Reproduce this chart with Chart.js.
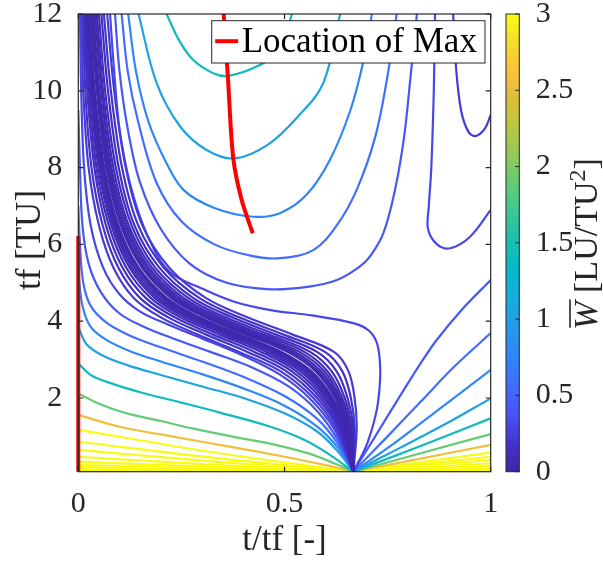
<!DOCTYPE html>
<html>
<head>
<meta charset="utf-8">
<script src="https://cdn.jsdelivr.net/npm/chart.js@4/dist/chart.umd.min.js"></script>
<style>
  html, body { margin: 0; padding: 0; background: #fff; }
  canvas { display: block; }
</style>
</head>
<body>
<canvas id="c" width="603" height="565"></canvas>
<script>
// axes
const tfMin = 0.08, tfMax = 12;
const tickT = [0, 0.5, 1];
const tickTf = [2, 4, 6, 8, 10, 12];
const tickW = [0, 0.5, 1, 1.5, 2, 2.5, 3];
const wMax = 3;

// location of max (red)
const maxT = [0.3525, 0.3625, 0.3757, 0.396, 0.423];
const maxTf = [12, 10.39, 8.25, 7.16, 6.29];
const maxEdgeTf = [0.08, 6.22];

// dense valley band: shared tf grid, t/tf of each line
const bandTf = [12, 10, 8, 6.5, 5.4, 4.6, 4.1, 3.65, 3.2, 2.7, 2.0, 1.2, 0.08];
const bandLevels = [0.021, 0.028, 0.038, 0.051, 0.069, 0.093, 0.126, 0.17, 0.23];
const bandUpperT = [
  [0.031, 0.045, 0.068, 0.103, 0.154, 0.225, 0.307, 0.407, 0.507, 0.575, 0.623, 0.652, 0.667],
  [0.033, 0.048, 0.072, 0.107, 0.159, 0.232, 0.314, 0.416, 0.516, 0.581, 0.627, 0.653, 0.667],
  [0.037, 0.051, 0.076, 0.112, 0.165, 0.239, 0.323, 0.425, 0.525, 0.588, 0.631, 0.655, 0.667],
  [0.041, 0.056, 0.080, 0.117, 0.171, 0.247, 0.333, 0.436, 0.536, 0.596, 0.635, 0.658, 0.667],
  [0.045, 0.060, 0.085, 0.122, 0.178, 0.256, 0.344, 0.448, 0.548, 0.604, 0.640, 0.660, 0.667],
  [0.050, 0.065, 0.091, 0.129, 0.186, 0.267, 0.357, 0.462, 0.562, 0.614, 0.646, 0.663, 0.667],
  [0.056, 0.072, 0.098, 0.136, 0.196, 0.279, 0.373, 0.479, 0.579, 0.626, 0.653, 0.667, 0.667],
  [0.062, 0.079, 0.106, 0.145, 0.207, 0.294, 0.390, 0.498, 0.598, 0.640, 0.661, 0.670, 0.667],
  [0.070, 0.087, 0.115, 0.155, 0.220, 0.310, 0.410, 0.520, 0.620, 0.655, 0.670, 0.675, 0.667]
];
const bandLowerT = [
  [0.027, 0.040, 0.063, 0.097, 0.146, 0.215, 0.294, 0.393, 0.493, 0.565, 0.617, 0.649, 0.667],
  [0.025, 0.038, 0.060, 0.093, 0.142, 0.209, 0.287, 0.386, 0.486, 0.560, 0.613, 0.647, 0.667],
  [0.024, 0.036, 0.057, 0.089, 0.136, 0.202, 0.279, 0.377, 0.477, 0.553, 0.609, 0.645, 0.667],
  [0.022, 0.033, 0.053, 0.085, 0.130, 0.194, 0.270, 0.367, 0.467, 0.546, 0.605, 0.642, 0.667],
  [0.020, 0.030, 0.049, 0.080, 0.124, 0.186, 0.260, 0.356, 0.456, 0.538, 0.600, 0.640, 0.667],
  [0.018, 0.026, 0.044, 0.074, 0.116, 0.176, 0.248, 0.343, 0.443, 0.528, 0.594, 0.637, 0.667],
  [0.015, 0.022, 0.039, 0.067, 0.107, 0.164, 0.234, 0.327, 0.427, 0.517, 0.587, 0.633, 0.667],
  [0.012, 0.017, 0.032, 0.059, 0.097, 0.150, 0.218, 0.310, 0.410, 0.504, 0.579, 0.630, 0.667],
  [0.008, 0.012, 0.025, 0.050, 0.085, 0.135, 0.200, 0.290, 0.390, 0.490, 0.570, 0.625, 0.667]
];

// lines leaving the t/tf = 0 edge, ending at the focus (2/3, 0)
const low031 = [[0.004, 12], [0.007, 10], [0.014, 8], [0.03, 6.5], [0.06, 5.4], [0.1, 4.7], [0.15, 4.25], [0.22, 3.9], [0.3, 3.55], [0.4, 3.1], [0.49, 2.6], [0.56, 2.0], [0.62, 1.2], [0.667, 0.08]];
const low042 = [[0, 9.5], [0.004, 8], [0.01, 6.5], [0.025, 5.5], [0.055, 4.75], [0.1, 4.2], [0.16, 3.85], [0.23, 3.55], [0.32, 3.2], [0.42, 2.8], [0.51, 2.3], [0.58, 1.65], [0.63, 0.9], [0.667, 0.08]];
const low057 = [[0, 7.0], [0.004, 6], [0.012, 5.0], [0.03, 4.4], [0.07, 3.95], [0.13, 3.6], [0.2, 3.32], [0.3, 2.95], [0.4, 2.55], [0.5, 2.05], [0.58, 1.45], [0.63, 0.8], [0.667, 0.08]];
const low077 = [[0, 5.25], [0.01, 4.4], [0.03, 3.85], [0.07, 3.5], [0.13, 3.2], [0.2, 2.95], [0.3, 2.62], [0.4, 2.25], [0.5, 1.8], [0.58, 1.25], [0.63, 0.7], [0.667, 0.08]];
const low104 = [[0, 3.85], [0.02, 3.4], [0.06, 3.1], [0.12, 2.85], [0.2, 2.6], [0.3, 2.3], [0.4, 2.0], [0.5, 1.6], [0.58, 1.12], [0.63, 0.6], [0.667, 0.08]];
const low141 = [[0, 2.9], [0.03, 2.6], [0.08, 2.38], [0.15, 2.15], [0.25, 1.88], [0.35, 1.6], [0.466, 1.25], [0.55, 0.9], [0.61, 0.52], [0.667, 0.08]];
const low190 = [[0, 2.12], [0.05, 1.85], [0.117, 1.6], [0.2, 1.4], [0.28, 1.2], [0.38, 0.98], [0.47, 0.8], [0.56, 0.55], [0.62, 0.3], [0.667, 0.08]];
const low256 = [[0, 1.56], [0.1, 1.25], [0.2, 1.05], [0.3, 0.86], [0.4, 0.67], [0.5, 0.47], [0.6, 0.25], [0.667, 0.08]];

// upper lines (U shapes under the top edge)
const up031 = [[0.077, 12], [0.087, 10.5], [0.1, 9], [0.125, 7.6], [0.165, 6.3], [0.22, 5.3], [0.3, 4.85], [0.38, 4.5], [0.466, 4.29], [0.567, 4.15], [0.667, 3.95], [0.705, 3.75], [0.725, 3.4], [0.732, 2.8], [0.73, 2.2], [0.722, 1.6], [0.70, 0.8], [0.667, 0.08]];
const up042 = [[0.089, 12], [0.1, 10.5], [0.12, 9], [0.15, 7.6], [0.2, 6.4], [0.27, 5.5], [0.36, 5.0], [0.466, 4.83], [0.56, 4.9], [0.627, 5.07], [0.68, 5.4], [0.707, 5.68], [0.74, 6.3], [0.768, 7.42], [0.79, 8.8], [0.805, 10.3], [0.821, 12]];
const up057 = [[0.105, 12], [0.12, 10.5], [0.145, 9.2], [0.19, 7.6], [0.25, 6.6], [0.33, 6.0], [0.42, 5.7], [0.49, 5.64], [0.57, 5.85], [0.627, 6.5], [0.675, 7.42], [0.72, 8.8], [0.75, 10.4], [0.772, 12]];
const up077 = [[0.121, 12], [0.14, 10.5], [0.17, 9.2], [0.21, 8.2], [0.255, 7.42], [0.33, 6.95], [0.425, 6.72], [0.49, 6.82], [0.554, 7.3], [0.61, 8.2], [0.66, 9.5], [0.692, 10.8], [0.712, 12]];
const up104 = [[0.146, 12], [0.19, 10.2], [0.247, 9.07], [0.311, 8.46], [0.38, 8.24], [0.46, 8.6], [0.53, 9.3], [0.594, 10.2], [0.635, 12]];
const up141 = [[0.214, 12], [0.245, 11.3], [0.279, 10.8], [0.327, 10.46], [0.365, 10.39], [0.44, 10.67], [0.489, 11.06], [0.518, 12]];
const rightU031 = [[0.865, 12], [0.862, 10], [0.856, 8], [0.85, 7.0], [0.848, 6.4], [0.87, 6.0], [0.902, 5.9], [0.95, 6.2], [1, 6.9]];
const rightU023 = [[0.909, 12], [0.916, 10.6], [0.928, 9.5], [0.945, 8.95], [0.962, 8.82], [0.985, 9.0], [1, 9.37]];

// lines from the focus to the t/tf = 1 edge
const right042 = [[0.667, 0.08], [0.72, 1.0], [0.78, 2.05], [0.83, 2.9], [0.869, 3.51], [0.93, 4.3], [1, 5.07]];
const right057 = [[0.667, 0.08], [0.75, 1.0], [0.83, 1.9], [0.91, 2.8], [1, 3.69]];
const right077 = [[0.667, 0.08], [0.77, 0.85], [0.88, 1.75], [1, 2.73]];
const right104 = [[0.667, 0.08], [0.78, 0.7], [0.89, 1.32], [1, 1.99]];
const right141 = [[0.667, 0.08], [0.83, 0.75], [1, 1.47]];
const right190 = [[0.667, 0.08], [0.83, 0.56], [1, 1.06]];
const right256 = [[0.667, 0.08], [0.83, 0.42], [1, 0.78]];

// high levels (all yellow) near tf = 0
const yellowLevels = [3.46, 4.67, 6.3, 8.5, 11.5, 15.5, 21, 28, 38];
const yellowLeftTf = [1.17, 0.86, 0.65, 0.47, 0.34, 0.26, 0.2, 0.15, 0.12];
const yellowMidTf = [0.58, 0.44, 0.34, 0.26, 0.2, 0.16, 0.13, 0.11, 0.095];
const yellowRightTf = [0.58, 0.47, 0.39, 0.30, 0.23, 0.17, 0.13, 0.11, 0.095];
const yellowMidT = 0.33;
const focus = [0.667, 0.08];

// parula colormap
const parulaStops = [
  [0.0, [62, 38, 168]], [0.0625, [68, 52, 206]], [0.125, [72, 82, 244]], [0.1875, [66, 109, 254]],
  [0.25, [48, 133, 248]], [0.3125, [37, 153, 234]], [0.375, [23, 172, 220]], [0.4375, [6, 183, 202]],
  [0.5, [23, 191, 177]], [0.5625, [56, 199, 150]], [0.625, [96, 203, 121]], [0.6875, [143, 202, 90]],
  [0.75, [184, 198, 66]], [0.8125, [221, 191, 57]], [0.875, [252, 192, 60]], [0.9375, [245, 220, 44]],
  [1.0, [249, 251, 21]]
];
function parula(t) {
  t = Math.max(0, Math.min(1, t));
  for (let i = 1; i < parulaStops.length; i++) {
    const [t1, c1] = parulaStops[i];
    const [t0, c0] = parulaStops[i - 1];
    if (t <= t1) {
      const f = (t - t0) / (t1 - t0);
      const c = c0.map((v, k) => Math.round(v + f * (c1[k] - v)));
      return `rgb(${c[0]},${c[1]},${c[2]})`;
    }
  }
  return 'rgb(249,251,21)';
}

const lines = [];
function addLine(level, arr) { lines.push({ level, arr }); }

bandLevels.forEach((lv, i) => {
  addLine(lv, bandUpperT[i].map((t, j) => [t, bandTf[j]]));
  addLine(lv, bandLowerT[i].map((t, j) => [t, bandTf[j]]));
});
addLine(0.31, low031); addLine(0.42, low042); addLine(0.57, low057); addLine(0.77, low077);
addLine(1.04, low104); addLine(1.41, low141); addLine(1.90, low190); addLine(2.56, low256);
addLine(0.31, up031); addLine(0.42, up042); addLine(0.57, up057); addLine(0.77, up077);
addLine(1.04, up104); addLine(1.41, up141);
addLine(0.31, rightU031); addLine(0.23, rightU023);
addLine(0.42, right042); addLine(0.57, right057); addLine(0.77, right077); addLine(1.04, right104);
addLine(1.41, right141); addLine(1.90, right190); addLine(2.56, right256);
yellowLevels.forEach((lv, i) => {
  addLine(lv, [[0, yellowLeftTf[i]], [yellowMidT, yellowMidTf[i]], focus]);
  addLine(lv, [focus, [1, yellowRightTf[i]]]);
});

const datasets = [
  {
    data: maxT.map((t, i) => ({ x: t, y: maxTf[i] })),
    borderColor: '#ff0000', borderWidth: 4, showLine: true, pointRadius: 0, tension: 0.3
  },
  {
    data: maxEdgeTf.map(y => ({ x: 0, y })),
    borderColor: '#ff0000', borderWidth: 4, showLine: true, pointRadius: 0, clip: false
  }
].concat(lines.map(l => ({
  data: l.arr.map(([x, y]) => ({ x, y })),
  borderColor: parula(Math.min(l.level, wMax) / wMax),
  borderWidth: 2.2, showLine: true, pointRadius: 0, tension: 0.35
})));

const serif = "'Liberation Serif', 'Times New Roman', serif";
const ink = '#262626';

function drawCbTitle(ctx, cx, cy) {
  const big = `34px ${serif}`, ital = `italic 34px ${serif}`, small = `24px ${serif}`;
  const parts = [[ital, 'W', 0], [big, ' [LU/TU', 0], [small, '2', -12], [big, ']', 0]];
  ctx.save();
  ctx.translate(cx, cy);
  ctx.rotate(-Math.PI / 2);
  let total = 0;
  parts.forEach(p => { ctx.font = p[0]; total += ctx.measureText(p[1]).width; });
  let x = -total / 2;
  ctx.fillStyle = ink;
  ctx.textBaseline = 'alphabetic';
  parts.forEach(([f, s, dy], i) => {
    ctx.font = f;
    const w = ctx.measureText(s).width;
    ctx.fillText(s, x, 11 + dy);
    if (i === 0) {
      ctx.strokeStyle = ink; ctx.lineWidth = 1.6;
      ctx.beginPath(); ctx.moveTo(x + 2, -16); ctx.lineTo(x + w + 2, -16); ctx.stroke();
    }
    x += w;
  });
  ctx.restore();
}

const decor = {
  id: 'decor',
  afterDraw(chart) {
    const { ctx, chartArea: a, scales } = chart;
    const sx = scales.x, sy = scales.y, sc = scales.cb;
    ctx.save();

    // colorbar
    const cbL = a.right + 15.3, cbW = 13.3;
    const g = ctx.createLinearGradient(0, a.bottom, 0, a.top);
    parulaStops.forEach(([t, c]) => g.addColorStop(t, `rgb(${c[0]},${c[1]},${c[2]})`));
    ctx.fillStyle = g;
    ctx.fillRect(cbL, a.top, cbW, a.bottom - a.top);
    ctx.strokeStyle = ink; ctx.lineWidth = 1;
    ctx.strokeRect(cbL, a.top, cbW, a.bottom - a.top);
    ctx.beginPath();
    tickW.forEach(v => {
      const y = sc.getPixelForValue(v);
      ctx.moveTo(cbL + cbW - 4, y); ctx.lineTo(cbL + cbW, y);
    });
    ctx.stroke();

    // axes box and inward ticks
    ctx.lineWidth = 1.2;
    ctx.strokeRect(a.left, a.top, a.right - a.left, a.bottom - a.top);
    ctx.beginPath();
    tickT.forEach(v => {
      const x = sx.getPixelForValue(v);
      ctx.moveTo(x, a.bottom); ctx.lineTo(x, a.bottom - 5);
      ctx.moveTo(x, a.top); ctx.lineTo(x, a.top + 5);
    });
    tickTf.forEach(v => {
      const y = sy.getPixelForValue(v);
      ctx.moveTo(a.left, y); ctx.lineTo(a.left + 5, y);
      ctx.moveTo(a.right, y); ctx.lineTo(a.right - 5, y);
    });
    ctx.stroke();

    // legend
    const lx = 211.7, ly = 20.7, lw = 273.3, lh = 42.3;
    ctx.fillStyle = '#fff';
    ctx.fillRect(lx, ly, lw, lh);
    ctx.strokeStyle = ink; ctx.lineWidth = 1;
    ctx.strokeRect(lx, ly, lw, lh);
    ctx.strokeStyle = '#ff0000'; ctx.lineWidth = 4;
    ctx.beginPath(); ctx.moveTo(lx + 3.5, ly + 20.5); ctx.lineTo(lx + 26.5, ly + 20.5); ctx.stroke();
    ctx.fillStyle = '#000';
    ctx.font = `35px ${serif}`;
    ctx.textBaseline = 'middle';
    ctx.textAlign = 'left';
    ctx.fillText('Location of Max', lx + 30, ly + 22);

    // axis titles
    ctx.fillStyle = ink;
    ctx.textAlign = 'center';
    ctx.font = `35px ${serif}`;
    ctx.fillText('t/tf [-]', (a.left + a.right) / 2, 541);
    ctx.save();
    ctx.translate(31, 240);
    ctx.rotate(-Math.PI / 2);
    ctx.fillText('tf [TU]', 0, 0);
    ctx.restore();
    ctx.textAlign = 'left';
    drawCbTitle(ctx, 586, 244);

    ctx.restore();
  }
};

const tickFont = { family: serif, size: 30 };
const fmt = v => String(+Number(v).toFixed(2));

new Chart(document.getElementById('c'), {
  type: 'scatter',
  data: { datasets },
  options: {
    responsive: false,
    animation: false,
    devicePixelRatio: 1,
    layout: { padding: { top: 14, left: 0, right: 0, bottom: 0 } },
    plugins: { legend: { display: false }, tooltip: { enabled: false } },
    elements: { point: { radius: 0 } },
    scales: {
      x: {
        type: 'linear', min: 0, max: 1,
        afterBuildTicks: s => { s.ticks = tickT.map(v => ({ value: v })); },
        afterFit: s => { s.height = 93.3; s.paddingLeft = 0; s.paddingRight = 0; },
        ticks: { font: tickFont, color: ink, padding: 6, maxRotation: 0, autoSkip: false, callback: fmt },
        grid: { display: false }, border: { display: false }
      },
      y: {
        type: 'linear', min: tfMin, max: tfMax,
        afterBuildTicks: s => { s.ticks = tickTf.map(v => ({ value: v })); },
        afterFit: s => { s.width = 78.3; s.paddingTop = 0; s.paddingBottom = 0; },
        ticks: { font: tickFont, color: ink, padding: 8, autoSkip: false, callback: fmt },
        grid: { display: false }, border: { display: false }
      },
      cb: {
        type: 'linear', axis: 'y', position: 'right', min: 0, max: wMax,
        afterBuildTicks: s => { s.ticks = tickW.map(v => ({ value: v })); },
        afterFit: s => { s.width = 112.3; s.paddingTop = 0; s.paddingBottom = 0; },
        ticks: { font: tickFont, color: ink, padding: 37, autoSkip: false, callback: fmt },
        grid: { display: false }, border: { display: false }
      }
    }
  },
  plugins: [decor]
});
</script>
</body>
</html>
